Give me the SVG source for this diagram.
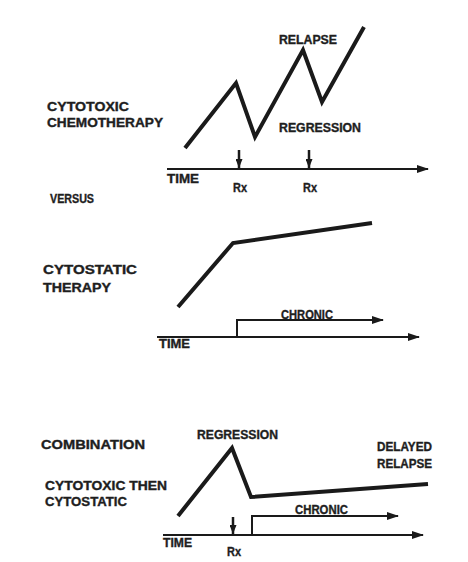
<svg xmlns="http://www.w3.org/2000/svg" width="468" height="562" viewBox="0 0 468 562">
<style>
text{font-family:"Liberation Sans","DejaVu Sans",sans-serif;font-weight:bold;font-size:12px;fill:#1e1e1e;stroke:#1e1e1e;stroke-width:0.35}
.curve{fill:none;stroke:#1a1a1a;stroke-width:4;stroke-linejoin:miter;stroke-linecap:butt}
.axis{fill:none;stroke:#1a1a1a;stroke-width:2}
.chronic{fill:none;stroke:#1a1a1a;stroke-width:2}
.rx{fill:none;stroke:#1a1a1a;stroke-width:2.5}
</style>
<defs>
<marker id="ah" markerUnits="userSpaceOnUse" viewBox="0 0 12 8" refX="11" refY="4" markerWidth="12" markerHeight="8" orient="auto">
<path d="M0,0 L12,4 L0,8 Z" fill="#1a1a1a"/>
</marker>
<marker id="rxh" markerUnits="userSpaceOnUse" viewBox="0 0 9 7" refX="9" refY="3.5" markerWidth="9" markerHeight="7" orient="auto">
<path d="M0,0 L9,3.5 L0,7 Z" fill="#1a1a1a"/>
</marker>
</defs>
<rect width="468" height="562" fill="#ffffff"/>

<g id="panel-cytotoxic">
<text x="47" y="111" textLength="82" lengthAdjust="spacingAndGlyphs">CYTOTOXIC</text>
<text x="47" y="127" textLength="116" lengthAdjust="spacingAndGlyphs">CHEMOTHERAPY</text>
<text x="279" y="44" textLength="58" lengthAdjust="spacingAndGlyphs">RELAPSE</text>
<text x="279" y="132" textLength="82" lengthAdjust="spacingAndGlyphs">REGRESSION</text>
<text x="167" y="183" textLength="32" lengthAdjust="spacingAndGlyphs">TIME</text>
<text x="240" y="192" text-anchor="middle" textLength="14" lengthAdjust="spacingAndGlyphs">Rx</text>
<text x="310" y="192" text-anchor="middle" textLength="14" lengthAdjust="spacingAndGlyphs">Rx</text>
</g>
<g id="versus">
<text x="50" y="203" textLength="44" lengthAdjust="spacingAndGlyphs">VERSUS</text>
</g>
<g id="panel-cytostatic">
<text x="43" y="274" textLength="94" lengthAdjust="spacingAndGlyphs">CYTOSTATIC</text>
<text x="43" y="292" textLength="68" lengthAdjust="spacingAndGlyphs">THERAPY</text>
<text x="281" y="319" textLength="52" lengthAdjust="spacingAndGlyphs">CHRONIC</text>
<text x="159" y="348" textLength="31" lengthAdjust="spacingAndGlyphs">TIME</text>
</g>
<g id="panel-combination">
<text x="41" y="449" textLength="104" lengthAdjust="spacingAndGlyphs">COMBINATION</text>
<text x="197" y="439" textLength="81" lengthAdjust="spacingAndGlyphs">REGRESSION</text>
<text x="377" y="451" textLength="55" lengthAdjust="spacingAndGlyphs">DELAYED</text>
<text x="377" y="468" textLength="55" lengthAdjust="spacingAndGlyphs">RELAPSE</text>
<text x="45" y="490" textLength="122" lengthAdjust="spacingAndGlyphs">CYTOTOXIC THEN</text>
<text x="45" y="506" textLength="82" lengthAdjust="spacingAndGlyphs">CYTOSTATIC</text>
<text x="295" y="514" textLength="53" lengthAdjust="spacingAndGlyphs">CHRONIC</text>
<text x="163" y="547" textLength="29" lengthAdjust="spacingAndGlyphs">TIME</text>
<text x="234" y="556" text-anchor="middle" textLength="14" lengthAdjust="spacingAndGlyphs">Rx</text>
</g>

<g id="connectors">
<polyline class="curve" points="185,148 236,83 255,137 303,50 322,102 364,27"/>
<line class="axis" x1="167" y1="169" x2="428" y2="169" marker-end="url(#ah)"/>
<line class="rx" x1="239" y1="150" x2="239" y2="168" marker-end="url(#rxh)"/>
<line class="rx" x1="309" y1="150" x2="309" y2="168" marker-end="url(#rxh)"/>

<polyline class="curve" points="178,307 233,243 372,223"/>
<polyline class="chronic" points="237,337 237,320 383,320" marker-end="url(#ah)"/>
<line class="axis" x1="157" y1="337" x2="419" y2="337" marker-end="url(#ah)"/>

<polyline class="curve" points="178,516 232,448 251,497 428,484"/>
<polyline class="chronic" points="252,535 252,516 398,516" marker-end="url(#ah)"/>
<line class="axis" x1="163" y1="535" x2="423" y2="535" marker-end="url(#ah)"/>
<line class="rx" x1="233" y1="517" x2="233" y2="534" marker-end="url(#rxh)"/>
</g>
</svg>
